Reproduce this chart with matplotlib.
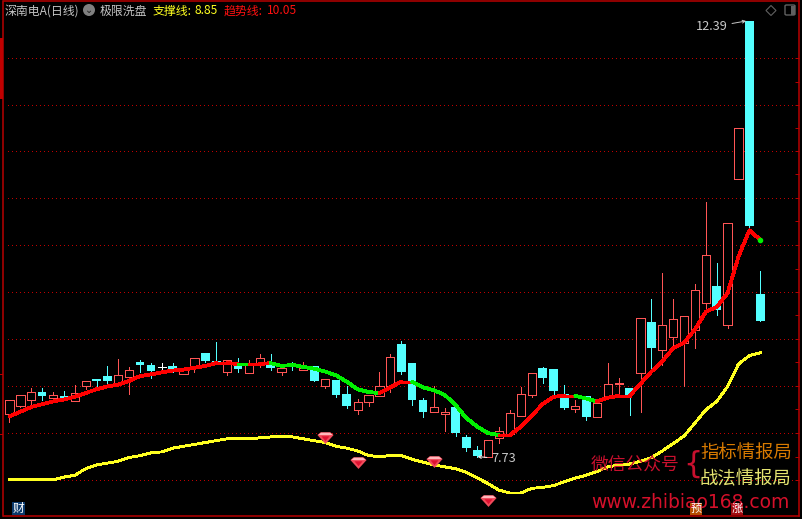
# import
import matplotlib
matplotlib.use("Agg")
import matplotlib.pyplot as plt
from matplotlib.patches import Rectangle, Ellipse, FancyBboxPatch, Polygon

plt.rcParams['font.family'] = ['Noto Sans CJK SC', 'DejaVu Sans']

# daily prices
opens = [8.18, 8.27, 8.33, 8.42, 8.36, 8.38, 8.32, 8.49, 8.56, 8.59,
         8.52, 8.58, 8.74, 8.71, 8.69, 8.70, 8.61, 8.69, 8.84, 8.75,
         8.64, 8.73, 8.62, 8.73, 8.73, 8.64, 8.70, 8.66, 8.70, 8.48,
         8.55, 8.40, 8.23, 8.31, 8.38, 8.49, 8.93, 8.73, 8.33, 8.21,
         8.18, 8.26, 7.94, 7.80, 7.73, 7.93, 7.97, 8.16, 8.39, 8.68,
         8.67, 8.40, 8.24, 8.38, 8.15, 8.36, 8.51, 8.46, 8.62, 9.17,
         8.87, 9.01, 8.94, 9.08, 9.37, 9.55, 9.14, 10.70, 12.39, 9.47]
closes = [8.34, 8.39, 8.42, 8.38, 8.39, 8.35, 8.41, 8.54, 8.54, 8.54,
          8.60, 8.66, 8.71, 8.65, 8.69, 8.66, 8.68, 8.78, 8.75, 8.74,
          8.76, 8.67, 8.73, 8.78, 8.68, 8.68, 8.69, 8.68, 8.54, 8.56,
          8.39, 8.27, 8.31, 8.39, 8.49, 8.79, 8.64, 8.33, 8.21, 8.26,
          8.21, 7.98, 7.82, 7.74, 7.91, 8.00, 8.20, 8.40, 8.62, 8.57,
          8.43, 8.25, 8.27, 8.15, 8.30, 8.51, 8.52, 8.39, 9.21, 8.89,
          9.14, 9.20, 9.23, 9.51, 9.89, 9.30, 10.23, 11.25, 10.20, 9.18]
highs = [8.34, 8.39, 8.46, 8.46, 8.42, 8.43, 8.50, 8.54, 8.56, 8.70,
         8.77, 8.69, 8.76, 8.73, 8.73, 8.73, 8.68, 8.78, 8.84, 8.96,
         8.76, 8.78, 8.76, 8.83, 8.83, 8.68, 8.74, 8.74, 8.70, 8.56,
         8.55, 8.48, 8.35, 8.39, 8.63, 8.83, 8.97, 8.73, 8.36, 8.48,
         8.25, 8.26, 7.96, 7.84, 7.91, 8.05, 8.23, 8.47, 8.62, 8.69,
         8.67, 8.50, 8.33, 8.38, 8.30, 8.73, 8.57, 8.46, 9.21, 9.42,
         9.69, 9.42, 9.23, 9.58, 10.45, 9.80, 10.23, 11.25, 12.39, 9.72]
lows = [8.10, 8.26, 8.29, 8.33, 8.32, 8.33, 8.32, 8.45, 8.45, 8.49,
        8.50, 8.40, 8.63, 8.57, 8.65, 8.64, 8.61, 8.64, 8.74, 8.72,
        8.60, 8.63, 8.62, 8.69, 8.66, 8.60, 8.66, 8.66, 8.54, 8.46,
        8.37, 8.25, 8.18, 8.27, 8.38, 8.42, 8.61, 8.28, 8.15, 8.21,
        8.00, 7.95, 7.79, 7.73, 7.73, 7.87, 7.97, 8.16, 8.37, 8.52,
        8.40, 8.24, 8.21, 8.12, 8.15, 8.36, 8.39, 8.17, 8.21, 8.66,
        8.71, 8.89, 8.49, 8.89, 9.30, 9.24, 9.11, 10.70, 10.15, 9.18]

# indicator lines
trend = [8.16, 8.21, 8.26, 8.29, 8.32, 8.34, 8.37, 8.41, 8.45, 8.48,
         8.50, 8.54, 8.59, 8.61, 8.63, 8.65, 8.66, 8.68, 8.70, 8.73,
         8.73, 8.72, 8.72, 8.72, 8.73, 8.70, 8.71, 8.69, 8.67, 8.64,
         8.60, 8.53, 8.45, 8.42, 8.41, 8.47, 8.53, 8.53, 8.47, 8.44,
         8.39, 8.28, 8.14, 8.05, 7.98, 7.96, 7.96, 8.05, 8.17, 8.29,
         8.37, 8.38, 8.38, 8.35, 8.32, 8.36, 8.38, 8.38, 8.51, 8.64,
         8.75, 8.89, 8.95, 9.09, 9.28, 9.33, 9.48, 9.87, 10.15, 10.05]
support = [7.48, 7.48, 7.48, 7.48, 7.48, 7.51, 7.53, 7.60, 7.64, 7.66,
           7.68, 7.72, 7.74, 7.77, 7.78, 7.82, 7.84, 7.86, 7.88, 7.90,
           7.92, 7.92, 7.92, 7.93, 7.94, 7.94, 7.94, 7.92, 7.90, 7.88,
           7.84, 7.82, 7.79, 7.74, 7.73, 7.74, 7.74, 7.70, 7.67, 7.64,
           7.62, 7.60, 7.56, 7.50, 7.44, 7.37, 7.34, 7.34, 7.39, 7.40,
           7.42, 7.46, 7.50, 7.53, 7.57, 7.62, 7.64, 7.65, 7.68, 7.72,
           7.79, 7.87, 7.95, 8.09, 8.23, 8.32, 8.48, 8.72, 8.81, 8.84]

# parts of the trend line which are green (from day, to day)
green_parts = [(21, 22), (24, 34), (37, 45), (52, 54)]

# gem signals
gem_days = [29, 32, 39, 44]
gem_prices = [7.94, 7.67, 7.68, 7.27]

# horizontal dotted lines
grid_prices = [11.99, 11.49, 11.00, 10.50, 9.99, 9.49, 8.99, 8.49, 7.98, 7.48]
minor_prices = [11.74, 11.25, 10.75, 10.25, 9.74, 9.24, 8.74, 8.24, 7.73]

W, H = 803, 519

# setting for plot
fig = plt.figure(figsize=(W / 100, H / 100), dpi=100, facecolor="black")
ax = fig.add_axes([3.5 / W, 3 / H, 795.5 / W, 515 / H], facecolor="black")
ax.set_xlim(-0.551, 72.56)
ax.set_ylim(7.094, 12.604)
frame_red = "#b80000"
for side in ax.spines:
    ax.spines[side].set_color(frame_red)
    ax.spines[side].set_linewidth(1.1)
ax.set_xticks([])
ax.yaxis.tick_right()
ax.set_yticks(grid_prices)
ax.set_yticks(minor_prices, minor=True)
ax.set_yticklabels([])
ax.tick_params(axis="y", which="both", direction="in", length=3, width=0.7, color=frame_red)

for p in grid_prices:
    ax.plot([-0.1, 72.56], [p, p], color="#c00000", linewidth=0.72, antialiased=False,
            linestyle=(0, (1, 3)), zorder=1)

# candles
up_color = "#ff5555"
down_color = "#54ffff"
for i in range(len(opens)):
    if opens[i] == closes[i]:
        ax.vlines(i, lows[i], highs[i], color="white", linewidth=0.72, antialiased=False, zorder=2)
        ax.hlines(opens[i], i - 0.38, i + 0.38, color="white", linewidth=0.72, antialiased=False, zorder=2)
    elif closes[i] > opens[i]:
        ax.vlines(i, lows[i], highs[i], color=up_color, linewidth=0.72, antialiased=False, zorder=2)
        ax.bar(i, closes[i] - opens[i], bottom=opens[i], width=0.76, facecolor="black",
               edgecolor=up_color, linewidth=0.72, antialiased=False, zorder=3)
    else:
        ax.vlines(i, lows[i], highs[i], color=down_color, linewidth=0.72, antialiased=False, zorder=2)
        ax.bar(i, opens[i] - closes[i], bottom=closes[i], width=0.8, facecolor=down_color,
               edgecolor="none", antialiased=False, zorder=3)

# support line
ax.plot(range(len(support)), support, color="#ffff20", linewidth=1.35, antialiased=False, zorder=4)

# trend line, segment by segment
for i in range(len(trend) - 1):
    color = "#ff0000"
    for a, b in green_parts:
        if a <= i < b:
            color = "#00f000"
    ax.plot([i, i + 1], trend[i:i + 2], color=color, linewidth=2.0, antialiased=False,
            solid_capstyle="round", zorder=5)
ax.plot(len(trend) - 1, trend[-1], marker="o", markersize=3, color="#00f000", zorder=6)

# gems, each layer is rescaled by its largest coordinate so the size follows it
gem_size = 135
ax.scatter(gem_days, gem_prices, s=gem_size, c="#f04a5a", linewidths=0, zorder=7,
           marker=[(-1, 0.3), (-0.6, 0.65), (0.6, 0.65), (1, 0.3), (0, -0.8)])
ax.scatter(gem_days, gem_prices, s=gem_size * 0.9 ** 2, c="#ffb8bc", linewidths=0, zorder=8,
           marker=[(-0.9, 0.3), (-0.55, 0.6), (0.55, 0.6), (0.9, 0.3)])
ax.scatter(gem_days, gem_prices, s=gem_size * 0.5 ** 2, c="#e01030", linewidths=0, zorder=9,
           marker=[(-0.5, 0.15), (0.5, 0.15), (0, -0.45)])

# high and low labels
grey = "#c8c8c8"
ax.annotate("12.39", xy=(68 - 0.3, highs[68]), xytext=(696, 519 - 27), textcoords="figure pixels",
            color=grey, fontsize=9.2, va="center", zorder=11,
            arrowprops=dict(arrowstyle="->", color=grey, linewidth=0.7, shrinkA=1, shrinkB=0,
                            mutation_scale=5))
ax.annotate("7.73", xy=(43, lows[44]), xytext=(491, 519 - 459), textcoords="figure pixels",
            color=grey, fontsize=9.2, va="center", zorder=11,
            arrowprops=dict(arrowstyle="->", color="#e8e8e8", linewidth=0.8, shrinkA=1, shrinkB=0,
                            mutation_scale=5))


# everything below is placed by pixel like on the screenshot
def put(x, y, text, color, size, **kw):
    fig.text(x / W, 1 - y / H, text, color=color, fontsize=size, va="center", zorder=20, **kw)


def box(x, y, w, h, color):
    fig.add_artist(Rectangle((x / W, 1 - (y + h) / H), w / W, h / H, facecolor=color,
                             edgecolor="none", transform=fig.transFigure, zorder=19))


# header
put(5, 11, "深南电A(日线)", "#c4c4c4", 8.6)
fig.add_artist(Ellipse((89 / W, 1 - 10 / H), 12 / W, 12 / H, facecolor="#808080", edgecolor="none",
                       transform=fig.transFigure, zorder=19))
put(85, 9.5, "⌄", "#202020", 7, family="DejaVu Sans")
put(100, 11, "极限洗盘", "#c4c4c4", 8.6)
put(153, 11, "支撑线:", "#ffff20", 8.6)
put(195, 11, "8.85", "#ffff20", 8.6)
put(224, 11, "趋势线:", "#ff1010", 8.6)
put(267, 11, "10.05", "#ff1010", 8.6)

# left bar and ticks
box(0, 38, 3.5, 61, "#c00000")
box(0, 374, 3.5, 1, frame_red)
box(0, 434, 3.5, 1, frame_red)

# top right icons
fig.add_artist(Polygon([(766 / W, 1 - 10.5 / H), (771 / W, 1 - 5.5 / H), (776 / W, 1 - 10.5 / H),
                        (771 / W, 1 - 15.5 / H)], closed=True, facecolor="none",
                       edgecolor="#606060", linewidth=0.8, transform=fig.transFigure, zorder=19))
fig.add_artist(FancyBboxPatch((785 / W, 1 - 15 / H), 10 / W, 10 / H, boxstyle="round,pad=0,rounding_size=0.002",
                              facecolor="none", edgecolor="#606060", linewidth=1,
                              transform=fig.transFigure, zorder=19))
box(791, 6, 4, 9, "#606060")

# watermark
put(591, 465, "微信公众号", "#c8102e", 12.8)
put(683, 464, "{", "#c8102e", 22, family="DejaVu Sans")
put(700, 453, "指标情报局", "#d87a00", 13.2)
put(700, 479, "战法情报局", "#e4e470", 13.2)
put(591, 503, "www.zhibiao168.com", "#d4102a", 13.5, family="DejaVu Sans")

# small icons on the bottom
box(12, 502, 13, 13, "#0c3a6c")
put(12.5, 508, "财", "white", 8.5)
box(690, 503, 12.5, 11.5, "#b44c00")
put(690.5, 508.5, "预", "white", 8)
box(731, 503, 12.5, 11.5, "#a00c10")
put(731.5, 508.5, "涨", "white", 8)

fig.savefig("out.png", dpi=100, facecolor="black")
